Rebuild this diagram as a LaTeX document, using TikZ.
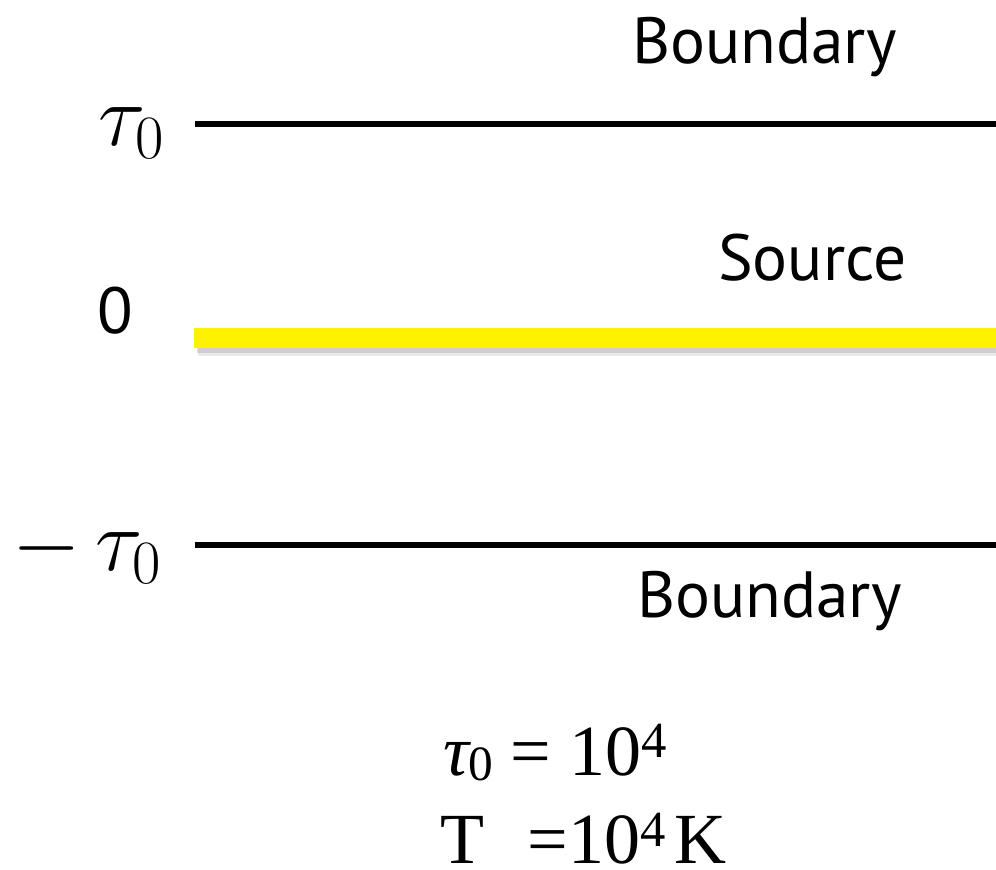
\documentclass[tikz,border=0pt]{standalone}
\usepackage{fix-cm}
\usepackage{fontspec}
\setmainfont{PT Sans}
\newfontfamily\timesf{Liberation Serif}
\begin{document}
\begin{tikzpicture}[x=0.75pt,y=-0.75pt,
  lbl/.style={anchor=base west, inner sep=0pt, font=\fontsize{49}{50}\selectfont},
  mlbl/.style={anchor=base west, inner sep=0pt, font=\fontsize{66}{70}\selectfont},
  eqlbl/.style={anchor=base west, inner sep=0pt, font=\timesf\fontsize{54}{56}\selectfont},
  bline/.style={line width=5pt, black},
  yline/.style={line width=15pt, yellow}]
\useasboundingbox (0,0) rectangle (996,869);
\fill[white] (0,0) rectangle (996,869);
% boundary lines
\coordinate (t1) at (195,124); \coordinate (t2) at (996,124);
\coordinate (b1) at (195,545); \coordinate (b2) at (996,545);
\coordinate (s1) at (194,338); \coordinate (s2) at (996,338);
\coordinate (sh1) at (197,343) ; \coordinate (sh2) at (996,343);
\coordinate (sh3) at (198,345) ; \coordinate (sh4) at (996,345);
\draw[bline] (t1) -- (t2);
\draw[bline] (b1) -- (b2);
\draw[line width=17pt, black, opacity=0.08] (sh3) -- (sh4);
\draw[line width=15pt, black, opacity=0.12] (sh1) -- (sh2);
\draw[yline] (s1) -- (s2);
% labels
\node[lbl] (btop) at (632,63) {Boundary};
\node[lbl] (src) at (718,280) {Source};
\node[lbl] (zero) at (97,333) {0};
\node[lbl] (bbot) at (637,617) {Boundary};
\node[mlbl] (tau) at (98,145) {$\tau_0$};
\node[mlbl] (mtau) at (12,570) {$-\,\tau_0$};
% equations
\node[eqlbl] (eq1) at (443,775) {\textit{τ}\hspace{-2.25pt}\raisebox{-3.75pt}{\fontsize{37}{37}\selectfont 0}\hspace{13pt}=\hspace{14pt}10\raisebox{13.5pt}{\fontsize{38}{38}\selectfont 4}};
\node[eqlbl] (eq2) at (440,863) {T\hspace{0.6em}=10\raisebox{12.75pt}{\fontsize{38}{38}\selectfont 4}\hspace{7pt}K};
\end{tikzpicture}
\end{document}
